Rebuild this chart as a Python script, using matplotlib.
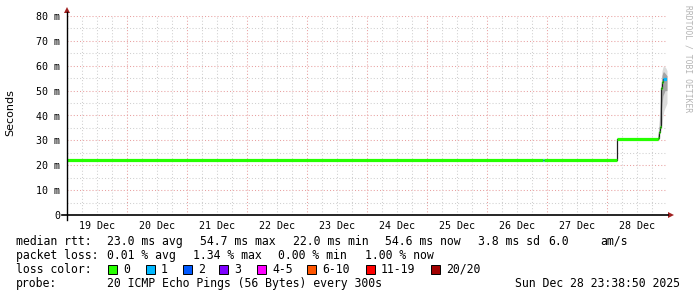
import matplotlib.pyplot as plt
from matplotlib.patches import Rectangle, Polygon
from matplotlib.lines import Line2D

W, H = 697, 297
MONO = "DejaVu Sans Mono"

# x axis: hours since 19 Dec 00:00, 10 days shown
days = ["19 Dec", "20 Dec", "21 Dec", "22 Dec", "23 Dec",
        "24 Dec", "25 Dec", "26 Dec", "27 Dec", "28 Dec"]
y_ticks = [0, 10, 20, 30, 40, 50, 60, 70, 80]
y_labels = ["0", "10 m", "20 m", "30 m", "40 m", "50 m", "60 m", "70 m", "80 m"]

# median rtt in ms, one value per step, step start in hours
seg_start = [0.0, 190.2, 190.6, 220.0, 236.3, 236.8, 237.1, 237.4, 237.7, 238.0, 238.4]
seg_end_last = 239.9
med_v = [22.0, 22.0, 22.0, 30.5, 31.0, 33.5, 35.5, 46.0, 51.0, 53.5, 54.6]
med_loss = [0, 1, 0, 0, 0, 0, 0, 0, 0, 0, 1]

# smoke (spread of the 20 pings) at the end
smoke_t = [236.2, 236.8, 237.2, 237.6, 238.0, 238.4, 238.8, 239.2, 239.6, 240.0]
smoke_lo = [30.5, 31.5, 33.5, 35.0, 37.0, 40.0, 42.0, 43.0, 44.0, 45.0]
smoke_hi = [31.5, 36.0, 46.0, 53.0, 58.0, 59.5, 60.0, 59.5, 59.0, 58.0]
smoke_lo2 = [30.6, 32.0, 34.5, 40.0, 45.0, 48.0, 49.0, 50.0, 50.0, 50.0]
smoke_hi2 = [31.0, 34.0, 42.0, 50.0, 56.0, 57.5, 57.5, 57.0, 56.5, 56.0]

loss_labels = ["0", "1", "2", "3", "4-5", "6-10", "11-19", "20/20"]
loss_colors = ["#26ff00", "#00b8ff", "#0059ff", "#7e00ff",
               "#ff00ff", "#ff5500", "#ff0000", "#a10000"]

rtt_stats = ["23.0 ms avg", "54.7 ms max", "22.0 ms min", "54.6 ms now",
             "3.8 ms sd", "6.0", "am/s"]
loss_stats = ["0.01 % avg", "1.34 % max", "0.00 % min", "1.00 % now"]
probe_text = "20 ICMP Echo Pings (56 Bytes) every 300s"
stamp = "Sun Dec 28 23:38:50 2025"

# layout (pixels)
rtt_x = [107, 200, 293, 385, 478, 548, 600]
loss_x = [107, 193, 278, 365]
box_x = [108, 146, 183, 219, 257, 307, 366, 431]


def fx(x):
    return x / W


def fy(y):
    return 1 - y / H


fig = plt.figure(figsize=(W / 100, H / 100), dpi=100)
fig.patch.set_facecolor("white")
ax = fig.add_axes([fx(67), fy(215), 600 / W, 199 / H])
ax.set_xlim(0, 240)
ax.set_ylim(0, 80)
for s in ax.spines.values():
    s.set_visible(False)

# grid
minor_c = "#d0d0d0"
major_c = "#e8a0a0"
for v in range(5, 81, 10):
    ax.axhline(v, color=minor_c, lw=0.75, ls=(0, (1, 2)), zorder=0)
for v in range(10, 81, 10):
    ax.axhline(v, color=major_c, lw=0.75, ls=(0, (1, 2)), zorder=0)
for h in range(6, 241, 6):
    if h % 24:
        ax.axvline(h, color=minor_c, lw=0.75, ls=(0, (1, 2)), zorder=0)
for h in range(24, 240, 24):
    ax.axvline(h, color=major_c, lw=0.75, ls=(0, (1, 2)), zorder=0)

# smoke
ax.fill_between(smoke_t, smoke_lo, smoke_hi, color="#dcdcdc", lw=0, zorder=1)
ax.fill_between(smoke_t, smoke_lo2, smoke_hi2, color="#a4a4a4", lw=0, zorder=1)

# median line: black connector + loss coloured segments
seg_end = seg_start[1:] + [seg_end_last]
ax.plot(seg_start + [seg_end_last], med_v + [med_v[-1]],
        drawstyle="steps-post", color="#202020", lw=0.9, zorder=2)
for x0, x1, v, l in zip(seg_start, seg_end, med_v, med_loss):
    ax.plot([x0, x1], [v, v], color=loss_colors[l], lw=2.3,
            solid_capstyle="butt", zorder=3)

# ticks
ax.set_xticks([12 + 24 * i for i in range(len(days))])
ax.set_xticklabels(days, fontfamily=MONO, fontsize=7.2)
ax.set_yticks(y_ticks)
ax.set_yticklabels(y_labels, fontfamily=MONO, fontsize=7.2)
ax.tick_params(length=0, pad=5)
ax.tick_params(axis="x", pad=4.5)

# axes lines and arrows
fig.add_artist(Line2D([fx(62), fx(668)], [fy(215), fy(215)], color="black", lw=1.2))
fig.add_artist(Line2D([fx(67), fx(67)], [fy(220), fy(12)], color="black", lw=1.0))
fig.add_artist(Polygon([(fx(668), fy(212)), (fx(674), fy(215)), (fx(668), fy(218))],
                       closed=True, color="#a02020", lw=0))
fig.add_artist(Polygon([(fx(64), fy(13)), (fx(67), fy(7)), (fx(70), fy(13))],
                       closed=True, color="#a02020", lw=0))

fig.text(fx(10), fy(113), "Seconds", rotation=90, ha="center", va="center",
         fontsize=8)
fig.text(fx(688), fy(5), "RRDTOOL / TOBI OETIKER", rotation=-90, ha="center",
         va="top", fontsize=5.8, fontfamily=MONO, color="#b4b4b4")

# legend block
fs = 8.3
fig.text(fx(16), fy(245), "median rtt:", fontfamily=MONO, fontsize=fs)
for x, t in zip(rtt_x, rtt_stats):
    fig.text(fx(x), fy(245), t, fontfamily=MONO, fontsize=fs)
fig.text(fx(16), fy(259), "packet loss:", fontfamily=MONO, fontsize=fs)
for x, t in zip(loss_x, loss_stats):
    fig.text(fx(x), fy(259), t, fontfamily=MONO, fontsize=fs)
fig.text(fx(16), fy(273), "loss color:", fontfamily=MONO, fontsize=fs)
for x, lab, c in zip(box_x, loss_labels, loss_colors):
    fig.add_artist(Rectangle((fx(x), fy(273.5)), 8.5 / W, 8.5 / H,
                             facecolor=c, edgecolor="black", lw=0.7))
    fig.text(fx(x + 15), fy(273), lab, fontfamily=MONO, fontsize=fs)
fig.text(fx(16), fy(287), "probe:", fontfamily=MONO, fontsize=fs)
fig.text(fx(107), fy(287), probe_text, fontfamily=MONO, fontsize=fs)
fig.text(fx(680), fy(287), stamp, fontfamily=MONO, fontsize=fs, ha="right")

fig.savefig("out.png", dpi=100, facecolor="white")
